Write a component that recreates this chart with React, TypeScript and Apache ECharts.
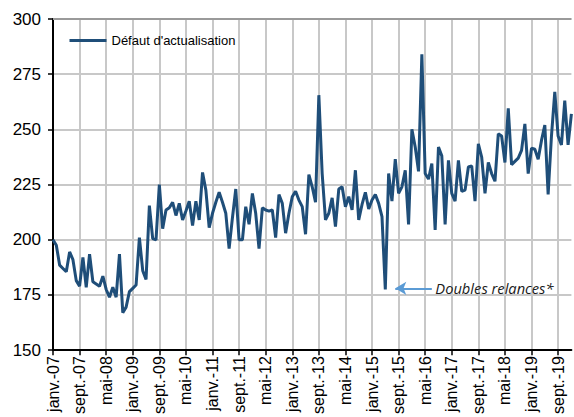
import React, { useEffect, useRef } from "react";
import * as echarts from "echarts";

const MONTHS = ["janv.", "févr.", "mars", "avr.", "mai", "juin", "juil.", "août", "sept.", "oct.", "nov.", "déc."];
const YEARS = ["07", "08", "09", "10", "11", "12", "13", "14", "15", "16", "17", "18", "19", "20"];
const SERIES_NAME = "Défaut d'actualisation";
const Y_TICKS = [150, 175, 200, 225, 250, 275, 300];

// Monthly values, janv.-07 .. janv.-20
const defaut = [
  200, 197.5, 188.5, 187, 185.5, 194.5, 191, 181.5, 179, 192, 178.5, 193.5,
  181, 180, 179, 183.5, 177.5, 174, 178.5, 174, 193.5, 167, 169.5, 176.5,
  178, 179.5, 201, 186, 182, 215.5, 200.5, 200, 225, 205, 213.5, 214.5,
  217, 211, 216.5, 209, 213, 217.5, 206.5, 217.5, 209, 230.5, 222.5, 205.5,
  212, 217, 221.5, 217, 212, 196, 210, 223, 200, 200, 215, 207,
  221, 212, 196, 214.5, 213.5, 213, 213.5, 201, 220.5, 216.5, 203, 212,
  219.5, 222, 218, 215, 202.5, 229.5, 224, 217, 265.5, 230, 209, 212,
  219, 206, 223, 224, 215, 219.5, 213.5, 231.5, 209, 216, 221.5, 214,
  218, 220.5, 216.5, 210.5, 177.5, 230, 217.5, 236.5, 221, 224, 231.5, 207,
  250, 242, 231, 284, 230, 227.5, 234.5, 204.5, 242, 238, 207, 236,
  221, 217.5, 236, 222, 222.5, 233, 233.5, 217.5, 243.5, 237.5, 221, 235,
  230, 226.5, 248, 247, 235, 259.5, 234, 235.5, 237, 240.5, 252.5, 230,
  241.5, 241, 236.5, 245, 252, 220.5, 247, 267, 247, 243, 263, 243,
  257,
];

const categories: string[] = [];
for (const y of YEARS) for (const m of MONTHS) categories.push(`${m}-${y}`);
const cats = categories.slice(0, defaut.length);

const ANNOT_VALUE = 178;
const ANNOT_FROM = cats[114];
const ANNOT_TO = cats[103];
const ANNOT_TEXT = "Doubles relances*";

export default function App() {
  const ref = useRef<HTMLDivElement>(null);
  useEffect(() => {
    if (!ref.current) return;
    const chart = echarts.init(ref.current, undefined, { renderer: "svg" });
    chart.setOption({
      animation: false,
      backgroundColor: "#ffffff",
      grid: { left: 53, right: 2.6, top: 19, bottom: 66, containLabel: false },
      legend: {
        show: true,
        left: 68,
        top: 34,
        padding: 0,
        itemWidth: 37,
        itemHeight: 14,
        itemGap: 10,
        itemStyle: { opacity: 0 },
        lineStyle: { color: "#1f4e79", width: 3 },
        textStyle: { fontFamily: "Liberation Sans", fontSize: 13, color: "#000" },
        data: [SERIES_NAME],
      },
      xAxis: {
        type: "category",
        data: cats,
        boundaryGap: false,
        axisLine: { show: true, lineStyle: { color: "#000", width: 2 } },
        axisTick: { show: true, interval: 7, length: 5, lineStyle: { color: "#000", width: 1.5 } },
        axisLabel: {
          interval: 7,
          rotate: 90,
          margin: 6,
          fontFamily: "Liberation Sans",
          fontSize: 16,
          color: "#000",
        },
        splitLine: { show: true, interval: 7, lineStyle: { color: "#c8c8c8", width: 2 } },
      },
      yAxis: {
        type: "value",
        min: Y_TICKS[0],
        max: Y_TICKS[Y_TICKS.length - 1],
        interval: 25,
        axisLine: { show: true, lineStyle: { color: "#000", width: 2 } },
        axisTick: { show: true, length: 5, lineStyle: { color: "#000", width: 1.5 } },
        axisLabel: { margin: 12, fontFamily: "Liberation Sans", fontSize: 17, color: "#000" },
        splitLine: { show: true, lineStyle: { color: "#c8c8c8", width: 2 } },
      },
      series: [
        {
          name: SERIES_NAME,
          type: "line",
          data: defaut,
          symbol: "none",
          lineStyle: { color: "#1f4e79", width: 3 },
          itemStyle: { color: "#1f4e79" },
          markLine: {
            silent: true,
            animation: false,
            symbol: ["none", "none"],
            label: { show: false },
            data: [
              { yAxis: 300, lineStyle: { color: "#9a9a9a", width: 2, type: "solid" } },
              [
                { coord: [ANNOT_FROM, ANNOT_VALUE], symbol: "none", lineStyle: { color: "#5b9bd5", width: 2, type: "solid" } },
                { coord: [ANNOT_TO, ANNOT_VALUE], symbol: "arrow", symbolSize: [10, 11] },
              ],
            ],
          },
          markPoint: {
            silent: true,
            data: [
              {
                coord: [ANNOT_FROM, ANNOT_VALUE],
                symbol: "circle",
                symbolSize: 1,
                itemStyle: { color: "rgba(0,0,0,0)" },
                label: {
                  show: true,
                  position: "right",
                  distance: 3,
                  formatter: ANNOT_TEXT,
                  fontFamily: "Open Sans",
                  fontStyle: "italic",
                  fontSize: 14.7,
                  color: "#1a1a1a",
                },
              },
            ],
          },
        },
      ],
    });
    return () => chart.dispose();
  }, []);
  return <div ref={ref} style={{ position: "fixed", left: 0, top: 0, width: 574, height: 417 }} />;
}
